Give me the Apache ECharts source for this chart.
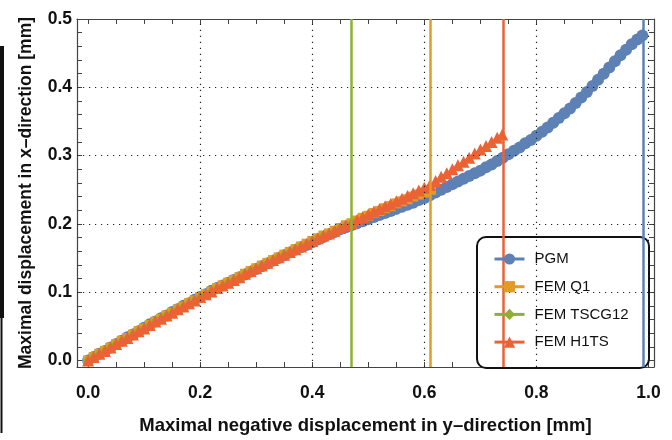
<!DOCTYPE html>
<html><head><meta charset="utf-8">
<script src="https://cdn.jsdelivr.net/npm/echarts@6/dist/echarts.min.js"></script>
<style>html,body{margin:0;padding:0;background:#fff}#c{width:672px;height:440px}</style>
</head><body><div id="c"></div>
<script>
const seriesNames = ['PGM','FEM Q1','FEM TSCG12','FEM H1TS'];
const xTickLabels = [0.0,0.2,0.4,0.6,0.8,1.0];
const yTickLabels = [0.0,0.1,0.2,0.3,0.4,0.5];
const xMinorTicks = [0,0.05,0.1,0.15,0.2,0.25,0.3,0.35,0.4,0.45,0.5,0.55,0.6,0.65,0.7,0.75,0.8,0.85,0.9,0.95,1.0];
const yMinorTicks = [0,0.02,0.04,0.06,0.08,0.1,0.12,0.14,0.16,0.18,0.2,0.22,0.24,0.26,0.28,0.3,0.32,0.34,0.36,0.38,0.4,0.42,0.44,0.46,0.48,0.5];
const xGrid = [0.2,0.4,0.6,0.8,1.0];
const yGrid = [0.1,0.2,0.3,0.4];

const pgmX = [0.00,0.01,0.02,0.03,0.04,0.05,0.06,0.07,0.08,0.09,
0.10,0.11,0.12,0.13,0.14,0.15,0.16,0.17,0.18,0.19,
0.20,0.21,0.22,0.23,0.24,0.25,0.26,0.27,0.28,0.29,
0.30,0.31,0.32,0.33,0.34,0.35,0.36,0.37,0.38,0.39,
0.40,0.41,0.42,0.43,0.44,0.45,0.46,0.47,0.48,0.49,
0.50,0.51,0.52,0.53,0.54,0.55,0.56,0.57,0.58,0.59,
0.60,0.61,0.62,0.63,0.64,0.65,0.66,0.67,0.68,0.69,
0.70,0.71,0.72,0.73,0.74,0.75,0.76,0.77,0.78,0.79,
0.80,0.81,0.82,0.83,0.84,0.85,0.86,0.87,0.88,0.89,
0.90,0.91,0.92,0.93,0.94,0.95,0.96,0.97,0.98,0.989];
const pgmY = [0.000,0.005,0.010,0.014,0.019,0.024,0.029,0.034,0.038,0.043,
0.048,0.053,0.057,0.062,0.066,0.071,0.075,0.080,0.084,0.089,
0.093,0.097,0.102,0.106,0.110,0.114,0.118,0.122,0.126,0.130,
0.134,0.138,0.142,0.146,0.150,0.154,0.158,0.162,0.166,0.169,
0.173,0.177,0.181,0.185,0.188,0.192,0.195,0.198,0.201,0.204,
0.207,0.210,0.213,0.216,0.219,0.222,0.225,0.228,0.231,0.235,
0.238,0.242,0.246,0.250,0.254,0.258,0.262,0.266,0.270,0.274,
0.278,0.283,0.287,0.292,0.297,0.302,0.307,0.312,0.318,0.323,
0.329,0.335,0.341,0.348,0.355,0.362,0.369,0.377,0.385,0.393,
0.402,0.411,0.420,0.429,0.438,0.447,0.455,0.463,0.470,0.476];

const q1X = [0.00,0.01,0.02,0.03,0.04,0.05,0.06,0.07,0.08,0.09,
0.10,0.11,0.12,0.13,0.14,0.15,0.16,0.17,0.18,0.19,
0.20,0.21,0.22,0.23,0.24,0.25,0.26,0.27,0.28,0.29,
0.30,0.31,0.32,0.33,0.34,0.35,0.36,0.37,0.38,0.39,
0.40,0.41,0.42,0.43,0.44,0.45,0.46,0.47,0.48,0.49,
0.50,0.51,0.52,0.53,0.54,0.55,0.56,0.57,0.58,0.59,
0.60,0.612];
const q1Y = [0.000,0.005,0.010,0.014,0.019,0.024,0.029,0.033,0.038,0.043,
0.047,0.052,0.057,0.061,0.066,0.070,0.075,0.079,0.084,0.088,
0.093,0.097,0.101,0.106,0.110,0.114,0.118,0.122,0.127,0.131,
0.135,0.139,0.143,0.147,0.151,0.155,0.159,0.163,0.167,0.171,
0.175,0.179,0.183,0.186,0.190,0.194,0.198,0.201,0.205,0.209,
0.212,0.216,0.219,0.223,0.226,0.230,0.233,0.236,0.240,0.243,
0.246,0.250];

const tscgX = [0.00,0.01,0.02,0.03,0.04,0.05,0.06,0.07,0.08,0.09,
0.10,0.11,0.12,0.13,0.14,0.15,0.16,0.17,0.18,0.19,
0.20,0.21,0.22,0.23,0.24,0.25,0.26,0.27,0.28,0.29,
0.30,0.31,0.32,0.33,0.34,0.35,0.36,0.37,0.38,0.39,
0.40,0.41,0.42,0.43,0.44,0.45,0.46,0.471];
const tscgY = [0.000,0.005,0.010,0.014,0.019,0.024,0.029,0.033,0.038,0.043,
0.047,0.052,0.057,0.061,0.066,0.070,0.075,0.079,0.084,0.088,
0.093,0.097,0.101,0.106,0.110,0.114,0.118,0.122,0.127,0.131,
0.135,0.139,0.143,0.147,0.151,0.155,0.159,0.163,0.167,0.171,
0.175,0.179,0.183,0.186,0.190,0.194,0.198,0.201];

const h1tsX = [0.00,0.01,0.02,0.03,0.04,0.05,0.06,0.07,0.08,0.09,
0.10,0.11,0.12,0.13,0.14,0.15,0.16,0.17,0.18,0.19,
0.20,0.21,0.22,0.23,0.24,0.25,0.26,0.27,0.28,0.29,
0.30,0.31,0.32,0.33,0.34,0.35,0.36,0.37,0.38,0.39,
0.40,0.41,0.42,0.43,0.44,0.45,0.46,0.47,0.48,0.49,
0.50,0.51,0.52,0.53,0.54,0.55,0.56,0.57,0.58,0.59,
0.60,0.61,0.62,0.63,0.64,0.65,0.66,0.67,0.68,0.69,
0.70,0.71,0.72,0.73,0.739];
const h1tsY = [0.000,0.005,0.010,0.014,0.019,0.024,0.029,0.033,0.038,0.043,
0.047,0.052,0.057,0.061,0.066,0.070,0.075,0.079,0.084,0.088,
0.093,0.097,0.101,0.106,0.110,0.114,0.118,0.122,0.127,0.131,
0.135,0.139,0.143,0.147,0.151,0.155,0.159,0.163,0.167,0.171,
0.175,0.179,0.183,0.186,0.190,0.194,0.198,0.201,0.206,0.210,
0.214,0.218,0.222,0.226,0.229,0.233,0.237,0.241,0.245,0.249,
0.253,0.257,0.263,0.269,0.274,0.280,0.286,0.291,0.297,0.303,
0.309,0.314,0.320,0.326,0.331];

const colors = ['#5E81B5','#E19C24','#8FB032','#EB6235'];
const symbols = ['circle','rect','diamond','triangle'];
const symbolSizes = [12,10,10,12];
const xs = [pgmX,q1X,tscgX,h1tsX];
const ys = [pgmY,q1Y,tscgY,h1tsY];

const X_MIN = -0.0198, X_MAX = 1.0098, Y_MIN = -0.0095, Y_MAX = 0.5;
const frameColor = '#444';
const font = '"Liberation Sans", Arial, sans-serif';

function frameAxis(extra){
  return Object.assign({
    type:'value', axisLine:{show:true, onZero:false, lineStyle:{color:frameColor,width:1.2}},
    axisTick:{show:true, inside:true, length:5, lineStyle:{color:frameColor,width:1}},
    splitLine:{show:false}
  }, extra);
}

const dataSeries = seriesNames.map((name,i)=>({
  name, type:'line', z:2,
  data: xs[i].map((x,k)=>[x, ys[i][k]]),
  symbol: symbols[i], symbolSize: symbolSizes[i],
  itemStyle:{color:colors[i]},
  lineStyle:{color:colors[i], width:2},
  markLine:{
    silent:true, symbol:['none','none'], label:{show:false},
    lineStyle:{color:colors[i], width:2.5, type:'solid'},
    data:[{xAxis: xs[i][xs[i].length-1]}]
  }
}));

const gridSeries = {
  name:'grid', type:'line', data:[], z:1, silent:true,
  markLine:{
    silent:true, symbol:['none','none'], label:{show:false},
    lineStyle:{color:'#222', width:1.2, type:[1.2,4.8]},
    data: xGrid.map(v=>({xAxis:v})).concat(yGrid.map(v=>({yAxis:v})))
  }
};

const option = {
  animation:false,
  backgroundColor:'#fff',
  grid:{left:77, right:18, top:19, bottom:66, containLabel:false},
  xAxis:[
    frameAxis({position:'bottom', min:X_MIN, max:X_MAX,
      name:'Maximal negative displacement in y\u2013direction [mm]',
      nameLocation:'middle', nameGap:49,
      nameTextStyle:{fontFamily:font, fontWeight:'bold', fontSize:18.5, color:'#111'},
      axisTick:{show:true, inside:true, length:5, customValues:xMinorTicks, lineStyle:{color:frameColor,width:1}},
      axisLabel:{show:true, customValues:xTickLabels, formatter:v=>v.toFixed(1), margin:17,
        fontFamily:font, fontWeight:'bold', fontSize:17.5, color:'#111'}}),
    frameAxis({position:'top', min:X_MIN, max:X_MAX,
      axisTick:{show:true, inside:true, length:5, customValues:xMinorTicks, lineStyle:{color:frameColor,width:1}},
      axisLabel:{show:false}})
  ],
  yAxis:[
    frameAxis({position:'left', min:Y_MIN, max:Y_MAX,
      name:'Maximal displacement in x\u2013direction [mm]',
      nameLocation:'middle', nameGap:42, nameRotate:90,
      nameTextStyle:{fontFamily:font, fontWeight:'bold', fontSize:17.5, color:'#111'},
      axisTick:{show:true, inside:true, length:5, customValues:yMinorTicks, lineStyle:{color:frameColor,width:1}},
      axisLabel:{show:true, customValues:yTickLabels, formatter:v=>v.toFixed(1), margin:5,
        fontFamily:font, fontWeight:'bold', fontSize:17.5, color:'#111'}}),
    frameAxis({position:'right', min:Y_MIN, max:Y_MAX,
      axisTick:{show:true, inside:true, length:5, customValues:yMinorTicks, lineStyle:{color:frameColor,width:1}},
      axisLabel:{show:false}})
  ],
  legend:{
    data:seriesNames, orient:'vertical', left:493, top:251,
    padding:0, itemWidth:30, itemHeight:14, itemGap:11.7,
    lineStyle:{width:3},
    textStyle:{fontFamily:font, fontSize:15, color:'#111', lineHeight:16, padding:[0,0,0,5]},
    z:10
  },
  graphic:[
    {type:'rect', z:5, shape:{x:477, y:237, width:172, height:131, r:9},
      style:{fill:'#fff', stroke:'#111', lineWidth:2}},
    {type:'rect', left:0, top:46, shape:{width:4, height:272}, style:{fill:'#111'}},
    {type:'line', shape:{x1:1.5, y1:318, x2:1.5, y2:433}, style:{stroke:'#111', lineWidth:2}}
  ],
  series:[gridSeries].concat(dataSeries)
};
const chart = echarts.init(document.getElementById('c'), null, {renderer:'canvas'});
chart.setOption(option);
</script></body></html>
